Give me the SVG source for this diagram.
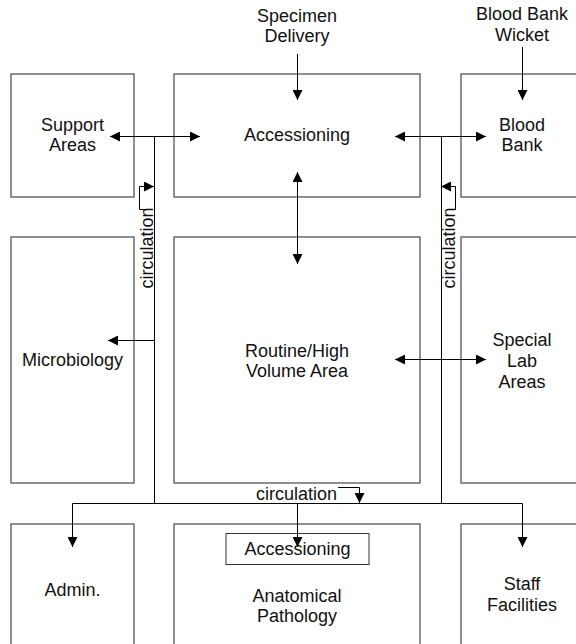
<svg xmlns="http://www.w3.org/2000/svg" width="576" height="644" viewBox="0 0 576 644">
<defs>
<marker id="ah" markerUnits="userSpaceOnUse" markerWidth="10" markerHeight="10" refX="10" refY="5" orient="auto-start-reverse" viewBox="0 0 10 10">
<path d="M0,0 L10,5 L0,10 z" fill="#000"/>
</marker>
<style>
.box{fill:#fff;stroke:#555;stroke-width:1.3}
.t{font-family:"Liberation Sans",Arial,sans-serif;font-size:18px;fill:#111;text-anchor:middle}
.c{fill:none;stroke:#000;stroke-width:1}
.e{marker-end:url(#ah)}
.b{marker-start:url(#ah);marker-end:url(#ah)}
</style>
</defs>
<rect width="576" height="644" fill="#fff"/>
<g id="support"><rect class="box" x="11" y="74" width="123" height="123"/><text class="t" x="72.5" y="131">Support</text><text class="t" x="72.5" y="151">Areas</text></g>
<g id="accessioning"><rect class="box" x="174" y="74" width="246" height="123"/><text class="t" x="297" y="141">Accessioning</text></g>
<g id="bloodbank"><rect class="box" x="461" y="74" width="123" height="123"/><text class="t" x="522" y="131">Blood</text><text class="t" x="522" y="151">Bank</text></g>
<g id="microbiology"><rect class="box" x="11" y="237" width="123" height="246"/><text class="t" x="72.5" y="366">Microbiology</text></g>
<g id="routine"><rect class="box" x="174" y="237" width="246" height="246"/><text class="t" x="297" y="357">Routine/High</text><text class="t" x="297" y="377">Volume Area</text></g>
<g id="special"><rect class="box" x="461" y="237" width="123" height="246"/><text class="t" x="522" y="346">Special</text><text class="t" x="522" y="367">Lab</text><text class="t" x="522" y="388">Areas</text></g>
<g id="admin"><rect class="box" x="11" y="524" width="123" height="140"/><text class="t" x="72.5" y="596">Admin.</text></g>
<g id="anatomical"><rect class="box" x="174" y="524" width="246" height="140"/><text class="t" x="297" y="602">Anatomical</text><text class="t" x="297" y="622">Pathology</text></g>
<g id="accessioning2"><rect x="226" y="533.5" width="143" height="31" fill="#fff" stroke="#333" stroke-width="1"/><text class="t" x="297.5" y="555">Accessioning</text></g>
<g id="staff"><rect class="box" x="461" y="524" width="123" height="140"/><text class="t" x="522" y="590">Staff</text><text class="t" x="522" y="611">Facilities</text></g>
<g id="specimen"><text class="t" x="297" y="22">Specimen</text><text class="t" x="297" y="42">Delivery</text></g>
<g id="wicket"><text class="t" x="522" y="20">Blood Bank</text><text class="t" x="522" y="41">Wicket</text></g>
<g id="labels">
<text class="t" transform="translate(152.5,248) rotate(-90)">circulation</text>
<text class="t" transform="translate(455,248) rotate(-90)">circulation</text>
<text class="t" x="296.5" y="500">circulation</text>
</g>
<g id="connectors">
<path class="c e" d="M297.5,54 L297.5,100"/>
<path class="c e" d="M522.5,47 L522.5,100"/>
<path class="c b" d="M110,136.5 L200,136.5"/>
<path class="c b" d="M395,136.5 L486,136.5"/>
<path class="c" d="M154.5,136.5 L154.5,503.5"/>
<path class="c" d="M441.5,136.5 L441.5,503.5"/>
<path class="c b" d="M297.5,172 L297.5,264"/>
<path class="c e" d="M154.5,340.5 L108,340.5"/>
<path class="c b" d="M395,359.5 L486,359.5"/>
<path class="c" d="M72.5,503.5 L522.5,503.5"/>
<path class="c e" d="M72.5,503.5 L72.5,547"/>
<path class="c e" d="M297.5,503.5 L297.5,547"/>
<path class="c e" d="M522.5,503.5 L522.5,547"/>
<path class="c e" d="M148,209.5 L139.5,209.5 L139.5,186.5 L154,186.5"/>
<path class="c e" d="M447,209.5 L455.5,209.5 L455.5,186.5 L441,186.5"/>
<path class="c e" d="M338,487.5 L359.5,487.5 L359.5,503"/>
</g>
</svg>
